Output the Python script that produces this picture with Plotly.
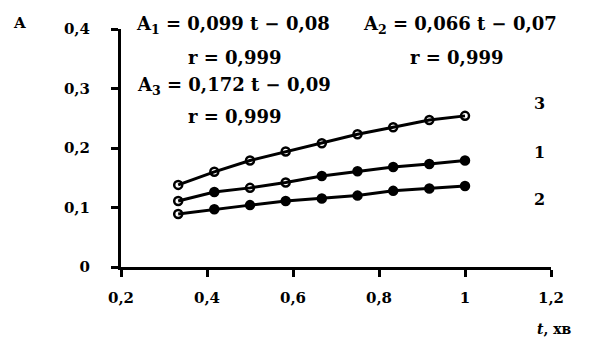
import plotly.graph_objects as go

t = [0.333, 0.417, 0.5, 0.583, 0.667, 0.75, 0.833, 0.917, 1.0]
A3 = [0.138, 0.160, 0.179, 0.194, 0.208, 0.223, 0.235, 0.247, 0.254]
A1 = [0.111, 0.126, 0.133, 0.142, 0.153, 0.161, 0.168, 0.173, 0.179]
A2 = [0.089, 0.097, 0.104, 0.111, 0.115, 0.120, 0.128, 0.132, 0.136]

x_ticks = [0.2, 0.4, 0.6, 0.8, 1.0, 1.2]
x_labels = ["0,2", "0,4", "0,6", "0,8", "1", "1,2"]
y_ticks = [0, 0.1, 0.2, 0.3, 0.4]
y_labels = ["0", "0,1", "0,2", "0,3", "0,4"]

eqs = [
    ("A<sub>1</sub> = 0,099 t − 0,08", 0.460, 0.407),
    ("A<sub>2</sub> = 0,066 t − 0,07", 0.988, 0.407),
    ("A<sub>3</sub> = 0,172 t − 0,09", 0.463, 0.305),
]
r_texts = [("r = 0,999", 0.463, 0.352), ("r = 0,999", 0.981, 0.352), ("r = 0,999", 0.463, 0.2535)]
series_labels = [("3", 1.174, 0.275), ("1", 1.174, 0.193), ("2", 1.174, 0.114)]

FONT = "DejaVu Serif"
YMAX = 0.4
fig = go.Figure()

def add(y, open_idx):
    sym = ["circle-open" if i in open_idx else "circle" for i in range(len(t))]
    fig.add_trace(go.Scatter(
        x=t, y=y, mode="lines+markers",
        line=dict(color="black", width=3),
        marker=dict(symbol=sym, size=8, color="black", line=dict(color="black", width=2.5)),
        showlegend=False))

add(A3, set(range(len(t))))
add(A1, {0, 2, 3})
add(A2, {0})

ef = dict(family=FONT, size=18, color="black", weight="bold")
lf = dict(family=FONT, size=16, color="black", weight="bold")
for txt, x, y in eqs + r_texts:
    fig.add_annotation(x=x, xref="x", y=y / YMAX, yref="paper", text=txt, showarrow=False,
                       xanchor="center", yanchor="middle", font=ef)
for txt, x, y in series_labels:
    fig.add_annotation(x=x, xref="x", y=y / YMAX, yref="paper", text=txt, showarrow=False,
                       xanchor="center", yanchor="middle", font=lf)

fig.add_annotation(xref="paper", yref="paper", x=-0.235, y=1.025, text="A", showarrow=False,
                   xanchor="center", yanchor="middle", font=dict(family=FONT, size=15, color="black", weight="bold"))
fig.add_annotation(xref="paper", yref="paper", x=1.009, y=-0.26, text="<i>t</i>, хв", showarrow=False,
                   xanchor="center", yanchor="middle", font=dict(family=FONT, size=14, color="black", weight="bold"))

axf = dict(family=FONT, size=15, color="black", weight="bold")
fig.update_xaxes(range=[0.2, 1.2], tickvals=x_ticks, ticktext=x_labels, showgrid=False, zeroline=False,
                 showline=True, linecolor="black", linewidth=3, ticks="outside", ticklen=7, tickwidth=3,
                 tickcolor="black", tickfont=axf, ticklabelstandoff=8)
fig.update_yaxes(range=[0, YMAX], tickvals=y_ticks, ticktext=y_labels, showgrid=False, zeroline=False,
                 showline=True, linecolor="black", linewidth=3, ticks="outside", ticklen=7, tickwidth=3,
                 tickcolor="black", tickfont=axf, ticklabelstandoff=18)

fig.update_layout(width=585, height=336, margin=dict(l=113, r=42, t=16, b=77),
                  plot_bgcolor="white", paper_bgcolor="white")
fig.write_html("out.html")
